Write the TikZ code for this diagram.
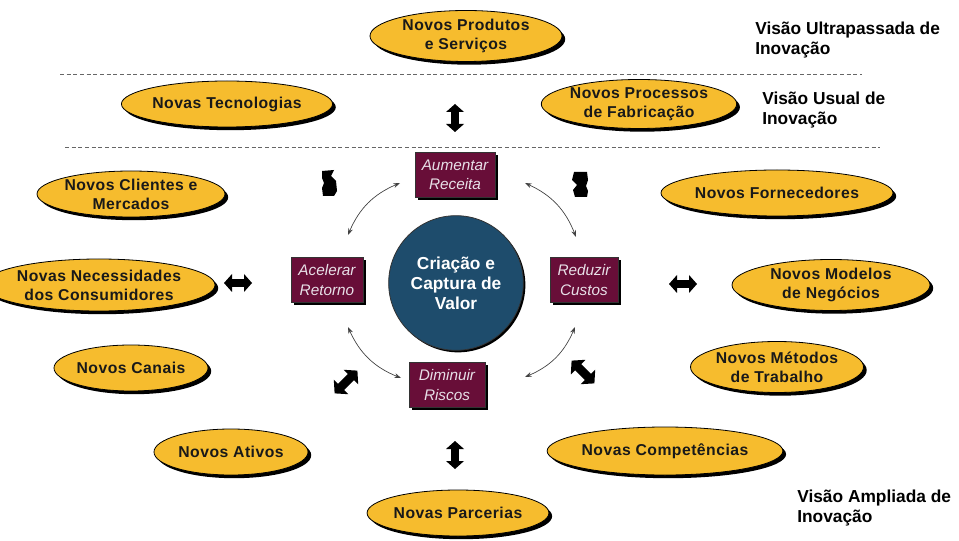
\documentclass[tikz,border=0pt]{standalone}
\usepackage{fontspec}
\setmainfont{Liberation Sans}
\usetikzlibrary{shapes.geometric,shadows,arrows.meta}

\definecolor{gold}{RGB}{246,188,46}
\definecolor{wine}{RGB}{104,14,56}
\definecolor{navy}{RGB}{30,76,108}
\definecolor{boxtext}{RGB}{232,224,232}

\tikzset{
  idea/.style 2 args={ellipse, draw=black, line width=0.6pt, fill=gold,
    minimum width=0.75pt*#1, minimum height=0.75pt*#2, inner sep=0pt, align=center,
    font=\bfseries\fontsize{11.8}{14.3}\selectfont\addfontfeature{LetterSpace=3}, text=black!90,
    drop shadow={shadow xshift=2.4pt, shadow yshift=-2.4pt, fill=black, opacity=1}},
  goal/.style 2 args={rectangle, draw=black!80, line width=0.4pt, fill=wine,
    minimum width=0.75pt*#1, minimum height=0.75pt*#2,
    inner sep=0pt, align=center, text=boxtext,
    font=\itshape\fontsize{11.5}{14.5}\selectfont,
    drop shadow={shadow xshift=2pt, shadow yshift=-2pt, fill=black, opacity=1}},
  core/.style={circle, draw=black!80, line width=0.6pt, fill=navy,
    minimum size=101pt, inner sep=0pt, align=center, text=white,
    font=\bfseries\fontsize{13}{15}\selectfont,
    drop shadow={shadow xshift=1.5pt, shadow yshift=-1.5pt, fill=black, opacity=1}},
  vision/.style={anchor=north west, align=left, inner sep=0pt,
    font=\bfseries\fontsize{13}{15}\selectfont},
  divider/.style={dashed, dash pattern=on 3pt off 2pt, draw=black!60, line width=0.6pt},
  loop/.style={draw=black!75, line width=0.5pt, {Stealth[length=5pt,width=3.5pt]}-{Stealth[length=5pt,width=3.5pt]}},
  dblarrow/.pic={\fill[black] (-14,0)--(-6,-9)--(-6,-3.8)--(6,-3.8)--(6,-9)--(14,0)
      --(6,9)--(6,3.8)--(-6,3.8)--(-6,9)--cycle;}
}

\begin{document}
\begin{tikzpicture}[x=0.75pt,y=-0.75pt]
\fill[white] (0,0) rectangle (959,541);
\useasboundingbox (0,0) rectangle (959,541);

% section dividers
\draw[divider] (60,74) -- (862,74);
\draw[divider] (65,147) -- (880,147);

% vision labels
\node[vision] (vUltra) at (755,22) {Visão Ultrapassada de\\Inovação};
\node[vision] (vUsual) at (762,92) {Visão Usual de\\Inovação};
\node[vision] (vAmpl) at (797,490) {Visão Ampliada de\\Inovação};

% innovation areas
\node[idea={192}{51}] (prod) at (466,36) {Novos Produtos\\e Serviços};
\node[idea={162}{46}] (tec) at (227,104) {Novas Tecnologias};
\node[idea={172}{49}] (proc) at (639,104) {Novos Processos\\de Fabricação};
\node[idea={160}{46}] (cli) at (131,194) {Novos Clientes e\\Mercados};
\node[idea={184}{52}] (nec) at (99,285) {Novas Necessidades\\dos Consumidores};
\node[idea={154}{46}] (can) at (131,368) {Novos Canais};
\node[idea={154}{46}] (ati) at (231,452) {Novos Ativos};
\node[idea={180}{46}] (par) at (458,513) {Novas Parcerias};
\node[idea={178}{48}] (comp) at (665,451) {Novas Competências};
\node[idea={156}{51}] (met) at (777,367) {Novos Métodos\\de Trabalho};
\node[idea={198}{51}] (mod) at (831,285) {Novos Modelos\\de Negócios};
\node[idea={174}{46}] (forn) at (777,193) {Novos Fornecedores};

% value core
\node[core] (core) at (456,283) {Criação e\\Captura de\\Valor};

% value drivers
\node[goal={80}{45}] (rec) at (455,175) {Aumentar\\Receita};
\node[goal={72}{45}] (ret) at (327,280) {Acelerar\\Retorno};
\node[goal={68}{45}] (cus) at (584,280) {Reduzir\\Custos};
\node[goal={76}{45}] (ris) at (447,385) {Diminuir\\Riscos};

% cycle connectors
\coordinate (recW) at (400,183);
\coordinate (recE) at (525,183);
\coordinate (retN) at (348,235);
\coordinate (retS) at (348,327);
\coordinate (cusN) at (576,237);
\coordinate (cusS) at (575,327);
\coordinate (risW) at (401,378);
\coordinate (risE) at (525,377);
\draw[loop] (recW) to[bend right=22] (retN);
\draw[loop] (recE) to[bend left=22] (cusN);
\draw[loop] (retS) to[bend right=22] (risW);
\draw[loop] (cusS) to[bend left=22] (risE);

% exchange arrows
\pic at (455,118) [rotate=90] {dblarrow};
\pic at (455,455) [rotate=90] {dblarrow};
\pic at (238,283) {dblarrow};
\pic at (683,284) {dblarrow};
\pic at (346,382) [rotate=45, scale=1.15] {dblarrow};
\pic at (583,372) [rotate=-45, scale=1.15] {dblarrow};

% folded arrows near the upper drivers
\fill[black] (322,171) -- (334,170) -- (331,176) -- (336,181) -- (337,191)
  -- (334,196) -- (323,196) -- (322,188) -- (324,183) -- (322,178) -- cycle;
\fill[black] (574,172) -- (587,172) -- (588,180) -- (586,186) -- (588,191)
  -- (587,197) -- (575,197) -- (573,190) -- (577,185) -- (572,180) -- cycle;
\end{tikzpicture}
\end{document}
